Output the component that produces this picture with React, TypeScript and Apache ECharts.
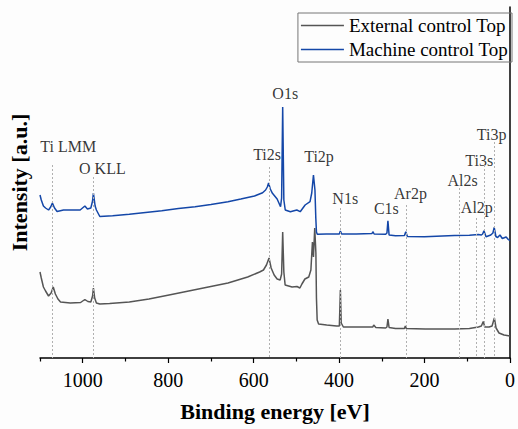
import React, { useEffect, useRef } from 'react';
import * as echarts from 'echarts';

const FONT = 'Liberation Serif';

const seriesNames = ['External control Top', 'Machine control Top'];

// [binding energy (eV), intensity (a.u.)]
const externalTop: number[][] = [
  [1100, 86], [1097, 80], [1092, 71], [1087, 67], [1080, 62], [1074, 65], [1069, 71], [1064, 64],
  [1058, 59], [1052, 56], [1029, 55], [1005, 55.5], [995, 58.5], [988, 56.5], [981, 56], [977, 62],
  [975, 70], [972, 60], [968, 55], [960, 54], [937, 54.5], [891, 56], [845, 59], [798, 63],
  [752, 67], [706, 71], [660, 75], [614, 81], [586, 86], [577, 88], [570, 93], [564, 100],
  [559, 90], [552, 83], [545, 79], [538, 78], [534.5, 84], [532, 126], [529.3, 86], [526.3, 73],
  [510, 71], [498.6, 71.5], [491.7, 70], [487, 74], [480, 79], [471, 81], [466, 88], [462.4, 116],
  [460, 101], [457, 130], [454.3, 105], [453, 60], [451.3, 38], [448, 34], [429, 33], [406, 32],
  [399.4, 32], [397, 68], [395, 35], [390, 31], [360, 31], [321, 31], [319, 33], [314, 30.5],
  [291, 30], [288, 31], [285.7, 39], [283, 30.5], [268, 29.5], [247, 29.5], [245, 32], [242.6, 29.5],
  [198.7, 29], [129.5, 29], [95, 29.5], [74, 31], [67, 32], [62.6, 36.5], [59, 31], [49, 31],
  [42, 32], [36.6, 40], [32.6, 30], [25.7, 25], [14, 23], [0, 22],
];

const machineTop: number[][] = [
  [1100, 163], [1097, 158], [1092, 152], [1087, 150], [1080, 148], [1075, 151], [1071, 155], [1066, 150],
  [1060, 146.5], [1045, 148], [1006, 148], [995, 152], [989, 149], [981, 150], [977, 157], [975, 165],
  [971, 152], [968, 148], [960, 141.5], [930, 142.3], [891, 143.7], [853, 145.5], [815, 147.3], [776, 149.5],
  [737, 151.3], [700, 153.5], [660, 156.3], [630, 159], [598, 162], [579, 165.3], [572, 168], [568, 171],
  [565, 175], [561, 169], [556, 164.7], [545, 159], [537, 151.3], [534.5, 160], [532, 251], [529.3, 158],
  [526, 148], [514, 146.3], [499, 148], [491, 146.3], [479.5, 153], [468, 156.3], [464, 165], [460, 183],
  [456.5, 168], [454.5, 140], [453, 126], [451, 123.7], [430, 124], [406, 124], [399.5, 124], [397, 127],
  [394, 124], [360, 124], [323, 124.5], [321, 126.3], [318, 124], [291, 123.7], [288, 125], [285.7, 137.3],
  [283, 123], [268, 122.3], [247, 122.5], [244, 126.3], [240, 121.5], [200, 121.3], [130, 122.5], [95, 122.7],
  [74, 123.5], [67, 123], [64, 124], [61, 127.3], [56, 121.3], [45, 123], [40, 125], [37, 130.7],
  [33, 121.5], [29, 120.5], [23.5, 123], [18, 119.5], [9, 121], [4, 118.5], [0, 117.3],
];

const majorTicks = [0, 200, 400, 600, 800, 1000];
const minorTicks = [100, 300, 500, 700, 900, 1100];

const guideEnergies = [1071, 975, 564, 398, 243, 119, 78, 60, 37];
const guideTops = [193, 181, 191, 150, 153, 170, 140, 193, 216];

const peakLabels = ['Ti LMM', 'O KLL', 'Ti2s', 'O1s', 'Ti2p', 'N1s', 'C1s', 'Ar2p', 'Al2s', 'Al2p', 'Ti3s', 'Ti3p'];
const labelEnergies = [1034, 954, 568.5, 526, 447, 385.6, 289.4, 233, 111, 77.6, 72, 43];
const labelHeights = [212, 190, 204, 265, 202, 160, 150, 164.5, 178, 151, 198, 224];

export default function App() {
  const ref = useRef<HTMLDivElement>(null);
  useEffect(() => {
    if (!ref.current) return;
    const chart = echarts.init(ref.current, undefined, { renderer: 'svg' });
    const axisName = { fontSize: 22, fontWeight: 'bold', fontFamily: FONT, color: '#000' };
    chart.setOption({
      animation: false,
      backgroundColor: '#fdfdfd',
      textStyle: { fontFamily: FONT },
      grid: { left: 39, right: 2, top: 7, bottom: 71 },
      legend: {
        data: seriesNames,
        orient: 'vertical',
        right: 6,
        top: 13,
        icon: 'rect',
        itemWidth: 43,
        itemHeight: 1.5,
        itemGap: 5,
        borderColor: '#777',
        borderWidth: 1,
        borderRadius: 0,
        padding: [3, 4, 3, 3],
        textStyle: { fontSize: 19, fontFamily: FONT, color: '#000', lineHeight: 19 },
      },
      xAxis: [
        {
          type: 'value',
          min: 0,
          max: 1100,
          interval: 200,
          inverse: true,
          position: 'bottom',
          axisLine: { lineStyle: { color: '#000', width: 1.5 } },
          axisTick: { customValues: majorTicks, length: 5, lineStyle: { color: '#000', width: 1.2 } },
          axisLabel: {
            fontSize: 20,
            fontFamily: FONT,
            fontStyle: 'normal',
            fontWeight: 'normal',
            color: '#000',
            margin: 12,
            formatter: (v: number) => (majorTicks.indexOf(v) >= 0 ? String(v) : ''),
          },
          splitLine: { show: false },
          name: 'Binding energy [eV]',
          nameLocation: 'middle',
          nameGap: 42,
          nameTextStyle: axisName,
        },
        {
          type: 'value',
          min: 0,
          max: 1100,
          interval: 100,
          inverse: true,
          position: 'bottom',
          axisLine: { show: false },
          axisTick: { customValues: minorTicks, length: 3.5, lineStyle: { color: '#000', width: 1.2 } },
          axisLabel: { show: false },
          splitLine: { show: false },
        },
      ],
      yAxis: {
        type: 'value',
        min: 0,
        max: 351,
        axisLine: { show: true, lineStyle: { color: '#000', width: 1.5 } },
        axisTick: { show: false },
        axisLabel: { show: false },
        splitLine: { show: false },
        name: 'Intensity [a.u.]',
        nameLocation: 'middle',
        nameGap: 10,
        nameTextStyle: axisName,
      },
      series: [
        {
          type: 'line',
          name: seriesNames[0],
          data: externalTop,
          symbol: 'none',
          showSymbol: false,
          lineStyle: { color: '#555555', width: 1.5 },
          itemStyle: { color: '#555555' },
          z: 3,
          markLine: {
            silent: true,
            symbol: ['none', 'none'],
            label: { show: false },
            lineStyle: { color: '#b0b0b0', type: [2, 2], width: 1 },
            data: guideEnergies.map((e, i) => [{ coord: [e, guideTops[i]] }, { coord: [e, 0] }]),
          },
        },
        {
          type: 'line',
          name: seriesNames[1],
          data: machineTop,
          symbol: 'none',
          showSymbol: false,
          lineStyle: { color: '#1447a8', width: 1.5 },
          itemStyle: { color: '#1447a8' },
          z: 3,
        },
        {
          type: 'scatter',
          name: 'labels',
          symbolSize: 0,
          silent: true,
          data: peakLabels.map((n, i) => ({ name: n, value: [labelEnergies[i], labelHeights[i]] })),
          label: {
            show: true,
            position: 'inside',
            formatter: '{b}',
            fontSize: 16,
            fontFamily: FONT,
            color: '#000',
            textBorderWidth: 0,
          },
        },
      ],
    });
    return () => chart.dispose();
  }, []);
  return <div ref={ref} style={{ position: 'fixed', left: 0, top: 0, width: 518, height: 429 }} />;
}
